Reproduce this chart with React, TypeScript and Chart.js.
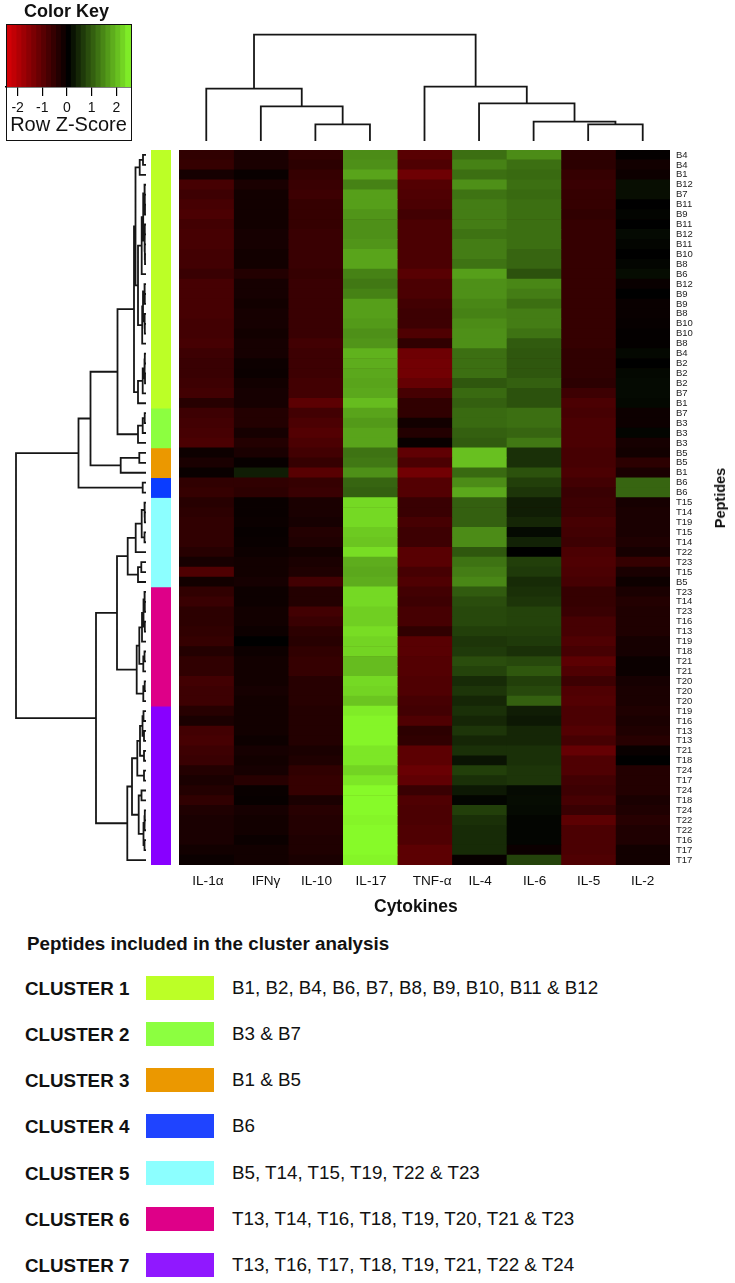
import React, { useEffect, useRef } from "react";
import { Chart, registerables } from "chart.js";

Chart.register(...registerables);

const FONT = '"Liberation Sans", Arial, sans-serif';

const cytokines = ["IL-1α", "IFNγ", "IL-10", "IL-17", "TNF-α", "IL-4", "IL-6", "IL-5", "IL-2"];
const cytokineLabelPositions = [0.53, 1.595, 2.52, 3.52, 4.64, 5.52, 6.52, 7.51, 8.5];

const peptides = [
  "B4","B4","B1","B12","B7","B11","B9","B11","B12","B11",
  "B10","B8","B6","B12","B9","B9","B8","B10","B10","B8",
  "B4","B2","B2","B2","B7","B1","B7","B3","B3","B3",
  "B5","B5","B1","B6","B6","T15","T14","T19","T15","T14",
  "T22","T23","T15","B5","T23","T14","T23","T16","T13","T19",
  "T18","T21","T21","T20","T20","T20","T19","T16","T13","T13",
  "T21","T18","T24","T17","T24","T18","T24","T22","T22","T16",
  "T17","T17",
];

const zIL1a = [
  -0.55,-0.6,-0.25,-0.8,-0.7,-0.8,-0.85,-0.75,-0.8,-0.8,
  -0.75,-0.75,-0.65,-0.8,-0.8,-0.8,-0.8,-0.75,-0.75,-0.8,
  -0.7,-0.65,-0.65,-0.7,-0.75,-0.45,-0.7,-0.75,-0.8,-0.85,
  -0.15,-0.3,-0.1,-0.55,-0.6,-0.45,-0.5,-0.55,-0.55,-0.55,
  -0.45,-0.25,-0.9,-0.2,-0.55,-0.65,-0.5,-0.5,-0.55,-0.6,
  -0.4,-0.55,-0.55,-0.75,-0.7,-0.7,-0.45,-0.3,-0.75,-0.8,
  -0.7,-0.65,-0.4,-0.3,-0.4,-0.55,-0.35,-0.3,-0.3,-0.3,
  -0.2,-0.12,
];
const zIFNg = [
  -0.3,-0.3,-0.1,-0.3,-0.2,-0.2,-0.2,-0.2,-0.25,-0.25,
  -0.2,-0.2,-0.4,-0.25,-0.25,-0.2,-0.25,-0.25,-0.2,-0.25,
  -0.25,-0.15,-0.12,-0.2,-0.25,-0.25,-0.4,-0.4,-0.25,-0.4,
  -0.3,-0.08,0.3,-0.55,-0.5,-0.1,-0.1,-0.12,-0.08,-0.1,
  -0.15,-0.2,-0.2,-0.25,-0.15,-0.15,-0.2,-0.2,-0.15,0,
  -0.15,-0.2,-0.2,-0.2,-0.25,-0.2,-0.2,-0.2,-0.2,-0.15,
  -0.25,-0.2,-0.25,-0.45,-0.1,-0.08,-0.25,-0.2,-0.2,-0.12,
  -0.2,-0.2,
];
const zIL10 = [
  -0.55,-0.5,-0.6,-0.65,-0.7,-0.6,-0.6,-0.6,-0.65,-0.65,
  -0.65,-0.65,-0.6,-0.65,-0.65,-0.65,-0.65,-0.65,-0.65,-0.75,
  -0.7,-0.7,-0.7,-0.75,-0.75,-1.05,-0.75,-0.85,-0.95,-0.85,
  -0.75,-0.6,-1.0,-0.6,-0.65,-0.3,-0.3,-0.25,-0.4,-0.35,
  -0.2,-0.3,-0.35,-0.75,-0.4,-0.4,-0.75,-0.65,-0.5,-0.45,
  -0.55,-0.6,-0.6,-0.45,-0.45,-0.45,-0.4,-0.4,-0.4,-0.4,
  -0.3,-0.35,-0.55,-0.6,-0.6,-0.3,-0.45,-0.4,-0.4,-0.35,
  -0.35,-0.3,
];
const zIL17 = [
  1.45,1.5,1.7,1.35,1.65,1.65,1.55,1.5,1.5,1.55,
  1.7,1.7,1.35,1.25,1.35,1.65,1.65,1.6,1.5,1.55,
  1.85,1.8,1.75,1.7,1.75,1.95,1.7,1.6,1.7,1.7,
  1.2,1.25,1.5,1.05,1.0,2.25,2.25,2.25,2.1,2.05,
  2.3,1.8,1.75,1.8,2.25,2.25,2.15,2.15,2.3,2.2,
  2.2,1.95,1.95,2.25,2.2,2.05,2.45,2.55,2.55,2.55,
  2.4,2.4,2.2,2.4,2.6,2.6,2.6,2.55,2.6,2.6,
  2.6,2.55,
];
const zTNFa = [
  -1.0,-0.9,-1.25,-0.95,-0.9,-0.85,-0.75,-0.85,-0.85,-0.85,
  -0.85,-0.85,-1.0,-0.85,-0.85,-0.75,-0.7,-0.7,-0.9,-0.55,
  -1.25,-1.3,-1.3,-1.15,-0.8,-0.55,-0.55,-0.2,-0.4,-0.1,
  -1.1,-0.85,-1.3,-0.95,-0.95,-0.65,-0.65,-0.8,-0.7,-0.7,
  -1.0,-1.0,-0.8,-0.9,-0.75,-0.7,-0.8,-0.8,-0.55,-1.0,
  -1.0,-0.95,-0.95,-0.9,-0.9,-0.8,-0.75,-0.9,-0.5,-0.55,
  -1.05,-1.05,-1.2,-1.1,-0.65,-0.9,-0.85,-0.85,-0.9,-0.9,
  -1.05,-1.05,
];
const zIL4 = [
  1.15,1.35,1.15,1.5,1.2,1.3,1.3,1.3,1.2,1.3,
  1.3,1.2,1.65,1.5,1.5,1.4,1.35,1.45,1.5,1.5,
  1.15,1.15,1.15,0.9,1.1,1.0,1.1,1.1,1.0,0.95,
  2.0,2.0,1.1,1.45,1.75,1.0,1.0,1.0,1.45,1.45,
  0.9,1.2,1.3,1.4,0.95,0.8,0.75,0.75,0.65,0.55,
  0.6,0.8,0.7,0.45,0.55,0.4,0.5,0.4,0.55,0.4,
  0.5,0.2,0.65,0.5,0.25,0.05,0.65,0.5,0.45,0.45,
  0.45,-0.08,
];
const zIL6 = [
  1.45,1.15,1.1,1.15,1.1,1.15,1.15,1.15,1.15,1.15,
  1.05,1.05,0.85,1.4,1.3,1.15,1.3,1.3,1.2,0.95,
  0.9,0.9,0.9,1.0,0.85,0.85,1.15,1.15,1.05,1.25,
  0.5,0.5,0.85,0.65,0.55,0.3,0.3,0.4,0.1,0.35,
  0,0.65,0.6,0.45,0.5,0.55,0.7,0.7,0.65,0.6,
  0.5,0.75,0.9,0.65,0.75,1.0,0.3,0.25,0.4,0.4,
  0.5,0.5,0.55,0.55,0.1,0.12,0.1,0.05,0.05,0.05,
  -0.12,0.7,
];
const zIL5 = [
  -0.5,-0.5,-0.6,-0.65,-0.6,-0.6,-0.55,-0.6,-0.6,-0.6,
  -0.6,-0.6,-0.6,-0.6,-0.6,-0.6,-0.6,-0.6,-0.6,-0.6,
  -0.55,-0.55,-0.55,-0.5,-0.7,-0.85,-0.8,-0.85,-0.85,-0.85,
  -0.8,-0.8,-0.85,-0.75,-0.65,-0.7,-0.7,-0.8,-0.75,-0.7,
  -0.85,-0.9,-0.85,-0.8,-0.6,-0.6,-0.65,-0.8,-0.8,-0.9,
  -0.8,-1.05,-0.9,-0.7,-0.9,-0.95,-0.85,-0.85,-0.95,-0.8,
  -1.15,-0.9,-0.9,-0.75,-0.7,-0.8,-0.65,-1.05,-0.85,-0.85,
  -0.85,-0.9,
];
const zIL2 = [
  -0.05,-0.2,-0.15,0.15,0.15,0,0.05,0,0.1,0.05,
  0,0.05,0.12,-0.1,0,-0.1,-0.1,-0.08,-0.05,-0.05,
  0.08,0,0.08,0.1,0.1,0.08,-0.15,-0.15,0.05,-0.25,
  -0.2,-0.5,-0.3,1.05,1.05,-0.25,-0.3,-0.3,-0.3,-0.35,
  -0.25,-0.6,-0.3,-0.15,-0.3,-0.4,-0.35,-0.35,-0.35,-0.25,
  -0.25,-0.12,-0.12,-0.25,-0.3,-0.3,-0.35,-0.3,-0.35,-0.45,
  -0.1,0,-0.4,-0.4,-0.4,-0.3,-0.35,-0.45,-0.35,-0.35,
  -0.2,-0.2,
];
const zColumns = [zIL1a, zIFNg, zIL10, zIL17, zTNFa, zIL4, zIL6, zIL5, zIL2];

// Nested merges: [height, left child, right child]; a plain number is a leaf index.
type Tree = number | [number, Tree, Tree];

const columnTree: Tree = [106.3, [52.3, 0, [34.7, 1, [16.7, 2, 3]]], [54.3, 4, [37.7, 5, [19.3, 6, [16.7, 7, 8]]]]];

const cluster1Tree: Tree = [12,
  [10.5,
    [6.3, [3, 0, 1], 2],
    [8,
      [4.3,
        [2.8, [1.5, 3, [1.2, 4, [1, 5, 6]]], [1.5, [1.2, 7, 8], [1.2, 9, [1, 10, 11]]]],
        12],
      [3.8, [3, [1.5, 13, [1.2, 14, 15]], [1.5, 16, [1.2, 17, 18]]], 19]]],
  [8, [3.3, [1.5, [1.2, 20, 21], [1, 22, 23]], 24], 25]];
const cluster2Tree: Tree = [8, [3.3, [1.3, 26, 27], 28], 29];
const cluster3Tree: Tree = [25.3, [6.7, 30, 31], 32];
const cluster4Tree: Tree = [3.3, 33, 34];
const cluster5Tree: Tree = [18.3,
  [10.3, [4.3, [1.5, 35, [1.2, 36, 37]], [1.5, 38, 39]], 40],
  [8, [4.7, 41, 42], 43]];
const cluster6Tree: Tree = [9.3,
  [6.7,
    [4, [2.5, [1.5, 44, [1.2, 45, 46]], [1.2, 47, 48]], 49],
    [2.7, [1.5, 50, 51], 52]],
  [2.7, [1.3, 53, 54], 55]];
const cluster7Tree: Tree = [18.7,
  [14,
    [8.7, [6, [3.5, [2.5, 56, 57], [2, 58, 59]], [2, 60, 61]], [2, 62, 63]],
    [7.3, [4.5, 64, 65], [2.5, [1.5, [1.2, 66, 67], 68], [1.5, 69, 70]]]],
  71];
const rowTree: Tree = [130,
  [67.5, [55.5, [28.5, cluster1Tree, cluster2Tree], cluster3Tree], cluster4Tree],
  [50, [29, cluster5Tree, cluster6Tree], cluster7Tree]];

const clusterNames = ["CLUSTER 1", "CLUSTER 2", "CLUSTER 3", "CLUSTER 4", "CLUSTER 5", "CLUSTER 6", "CLUSTER 7"];
const clusterSizes = [26, 4, 3, 2, 9, 12, 16];
const clusterColors = ["#BCFF26", "#8CFF40", "#EB9800", "#1F44FF", "#8CFFFF", "#DE0088", "#9018FF"];
const sideColors = ["#BCFF26", "#8CFF40", "#EB9800", "#0A3CFF", "#8CFFFF", "#DE0088", "#8800FF"];
const clusterPeptides = [
  "B1, B2, B4, B6, B7, B8, B9, B10, B11 & B12",
  "B3 & B7",
  "B1 & B5",
  "B6",
  "B5, T14, T15, T19, T22 & T23",
  "T13, T14, T16, T18, T19, T20, T21 & T23",
  "T13, T16, T17, T18, T19, T21, T22 & T24",
];

const keyEdges = [-2.47,-2.3,-2.1,-1.9,-1.7,-1.5,-1.3,-1.1,-0.9,-0.7,-0.5,-0.3,-0.1,0.1,0.3,0.5,0.7,0.9,1.1,1.3,1.5,1.7,1.9,2.1,2.3,2.59];
const keyTicks = [-2, -1, 0, 1, 2];

function zColor(z: number): string {
  if (z >= 0) {
    const t = Math.min(1, z / 2.65);
    return `rgb(${Math.round(138 * t)},${Math.round(255 * t)},${Math.round(42 * t)})`;
  }
  const t = Math.min(1, -z / 2.6);
  return `rgb(${Math.round(228 * t)},0,${Math.round(6 * t)})`;
}

function walkTree(tree: Tree, emit: (pos: number, h: number) => void): { pos: number; h: number } {
  if (typeof tree === "number") return { pos: tree + 0.5, h: 0 };
  const [h, l, r] = tree;
  const a = walkTree(l, emit);
  const b = walkTree(r, emit);
  emit(a.pos, a.h);
  emit(a.pos, h);
  emit(b.pos, h);
  emit(b.pos, b.h);
  emit(NaN, NaN);
  return { pos: (a.pos + b.pos) / 2, h };
}

function hiddenAxis(extra: object) {
  return { display: false, grid: { display: false }, ...extra };
}

function keyConfig(): any {
  return {
    type: "bar",
    data: {
      labels: ["key"],
      datasets: keyEdges.slice(0, -1).map((lo, i) => ({
        data: [[lo, Math.min(keyEdges[i + 1] + 0.04, keyEdges[keyEdges.length - 1])]],
        backgroundColor: zColor((lo + keyEdges[i + 1]) / 2),
        grouped: false,
        barPercentage: 1,
        categoryPercentage: 1,
      })),
    },
    options: {
      indexAxis: "y",
      responsive: false,
      animation: false,
      layout: { padding: { left: 6, right: 9, top: 24, bottom: 0 } },
      plugins: { legend: { display: false }, tooltip: { enabled: false } },
      scales: {
        y: hiddenAxis({}),
        x: {
          min: keyEdges[0],
          max: keyEdges[keyEdges.length - 1],
          afterBuildTicks: (s: any) => { s.ticks = keyTicks.map((value) => ({ value })); },
          afterFit: (s: any) => { s.height = 58; s.paddingLeft = 0; s.paddingRight = 0; },
          border: { display: true, color: "#000", width: 1.5 },
          grid: { drawOnChartArea: false, drawTicks: true, tickLength: 9, color: "#000", lineWidth: 1.2 },
          ticks: { color: "#111", font: { family: FONT, size: 14 }, padding: 4, maxRotation: 0, autoSkip: false },
          title: { display: true, text: "Row Z-Score", color: "#111", font: { family: FONT, size: 20 }, padding: { top: 0, bottom: 8 } },
        },
      },
    },
  };
}

function heatConfig(): any {
  return {
    type: "bar",
    data: {
      labels: peptides,
      datasets: zColumns.map((col, i) => ({
        label: cytokines[i],
        data: col.map(() => 1),
        backgroundColor: col.map(zColor),
        borderWidth: 0,
        barPercentage: 1,
        categoryPercentage: 1,
      })),
    },
    options: {
      indexAxis: "y",
      responsive: false,
      animation: false,
      layout: { padding: 0 },
      plugins: { legend: { display: false }, tooltip: { enabled: false } },
      scales: {
        x: {
          stacked: true,
          min: 0,
          max: cytokines.length,
          afterBuildTicks: (s: any) => { s.ticks = cytokineLabelPositions.map((value) => ({ value })); },
          afterFit: (s: any) => { s.height = 55; s.paddingLeft = 0; s.paddingRight = 0; },
          border: { display: false },
          grid: { display: false, drawTicks: false },
          ticks: {
            callback: (_: any, i: number) => cytokines[i],
            color: "#111",
            font: { family: FONT, size: 13.6 },
            padding: 8,
            maxRotation: 0,
            autoSkip: false,
          },
        },
        y: {
          stacked: true,
          position: "right",
          afterFit: (s: any) => { s.width = 65; s.paddingTop = 0; s.paddingBottom = 0; },
          border: { display: false },
          grid: { display: false, drawTicks: false },
          ticks: {
            color: "#222",
            font: { family: FONT, size: 9.5 },
            crossAlign: "near",
            padding: 6,
            autoSkip: false,
          },
        },
      },
    },
    plugins: [{
      id: "cellBacking",
      beforeDatasetsDraw(chart: any) {
        const { ctx, chartArea: a } = chart;
        ctx.save();
        ctx.fillStyle = "#2a0a00";
        ctx.fillRect(a.left, a.top, a.width, a.height);
        ctx.restore();
      },
    }],
  };
}

function sideConfig(): any {
  return {
    type: "bar",
    data: {
      labels: ["cluster"],
      datasets: clusterSizes.map((size, i) => ({
        label: clusterNames[i],
        data: [size],
        backgroundColor: sideColors[i],
        borderWidth: 0,
        barPercentage: 1,
        categoryPercentage: 1,
      })),
    },
    options: {
      responsive: false,
      animation: false,
      layout: { padding: 0 },
      plugins: { legend: { display: false }, tooltip: { enabled: false } },
      scales: {
        x: hiddenAxis({ stacked: true }),
        y: hiddenAxis({ stacked: true, reverse: true, min: 0, max: peptides.length }),
      },
    },
  };
}

function dendroDataset(points: { x: number; y: number }[]) {
  return {
    data: points,
    showLine: true,
    spanGaps: false,
    pointRadius: 0,
    borderColor: "#161616",
    borderWidth: 1.8,
    clip: false,
  };
}

function rowDendroConfig(): any {
  const pts: { x: number; y: number }[] = [];
  walkTree(rowTree, (pos, h) => pts.push({ x: h, y: pos }));
  return {
    type: "scatter",
    data: { datasets: [dendroDataset(pts)] },
    options: {
      responsive: false,
      animation: false,
      layout: { padding: 0 },
      plugins: { legend: { display: false }, tooltip: { enabled: false } },
      scales: {
        x: hiddenAxis({ reverse: true, min: 0, max: 136 }),
        y: hiddenAxis({ reverse: true, min: 0, max: peptides.length }),
      },
    },
  };
}

function colDendroConfig(): any {
  const pts: { x: number; y: number }[] = [];
  walkTree(columnTree, (pos, h) => pts.push({ x: pos, y: h }));
  return {
    type: "scatter",
    data: { datasets: [dendroDataset(pts)] },
    options: {
      responsive: false,
      animation: false,
      layout: { padding: 0 },
      plugins: { legend: { display: false }, tooltip: { enabled: false } },
      scales: {
        x: hiddenAxis({ min: 0, max: cytokines.length }),
        y: hiddenAxis({ min: 0, max: 111 }),
      },
    },
  };
}

function ChartCanvas({ config, left, top, width, height }: { config: () => any; left: number; top: number; width: number; height: number }) {
  const ref = useRef<HTMLCanvasElement>(null);
  useEffect(() => {
    const chart = new Chart(ref.current as HTMLCanvasElement, config());
    return () => chart.destroy();
  }, []);
  return <canvas ref={ref} width={width} height={height} style={{ position: "absolute", left, top, width, height }} />;
}

const legendCenters = [989, 1035, 1081, 1127, 1174, 1220, 1266];

export default function App() {
  const text = (style: React.CSSProperties, children: React.ReactNode, key?: number | string) => (
    <div key={key} style={{ position: "absolute", whiteSpace: "nowrap", fontFamily: FONT, color: "#111", ...style }}>{children}</div>
  );
  return (
    <div style={{ position: "absolute", left: 0, top: 0, width: 735, height: 1283, overflow: "hidden", background: "#fff" }}>
      <ChartCanvas config={keyConfig} left={0} top={0} width={140} height={145} />
      <div style={{ position: "absolute", left: 6, top: 24, width: 124, height: 115, border: "1.5px solid #111" }} />
      {text({ left: 4, width: 125, top: 1, textAlign: "center", fontWeight: 700, fontSize: 18, lineHeight: "20px" }, "Color Key")}
      <ChartCanvas config={colDendroConfig} left={179} top={30} width={491} height={111} />
      <ChartCanvas config={rowDendroConfig} left={10} top={150} width={136} height={715} />
      <ChartCanvas config={sideConfig} left={151} top={150} width={20} height={715} />
      <ChartCanvas config={heatConfig} left={179} top={150} width={556} height={770} />
      {text({ left: 374, top: 897, fontWeight: 700, fontSize: 17.5, lineHeight: "18px" }, "Cytokines")}
      {text({ left: 720, top: 498, fontWeight: 700, fontSize: 14.5, lineHeight: "16px", transform: "translate(-50%,-50%) rotate(-90deg)" }, "Peptides")}
      {text({ left: 27, top: 934, fontWeight: 700, fontSize: 18.8, lineHeight: "20px" }, "Peptides included in the cluster analysis")}
      {clusterNames.map((name, i) => (
        <React.Fragment key={name}>
          {text({ left: 25, top: legendCenters[i] - 11, fontWeight: 700, fontSize: 18.8, lineHeight: "22px" }, name)}
          <div style={{ position: "absolute", left: 146, top: legendCenters[i] - 13, width: 68, height: 24, background: clusterColors[i] }} />
          {text({ left: 232, top: legendCenters[i] - 12, fontSize: 18.8, lineHeight: "22px" }, clusterPeptides[i])}
        </React.Fragment>
      ))}
    </div>
  );
}
